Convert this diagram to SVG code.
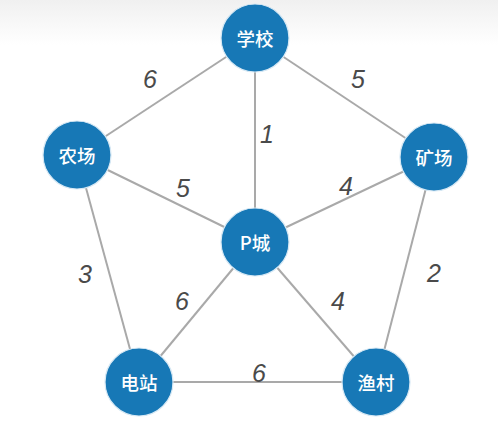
<svg xmlns="http://www.w3.org/2000/svg" width="498" height="428" viewBox="0 0 498 428">
<defs>
<linearGradient id="bg" x1="0" y1="0" x2="0" y2="1">
<stop offset="0" stop-color="#f0f0f0"/>
<stop offset="1" stop-color="#ffffff"/>
</linearGradient>
<style>
.edge{stroke:#a9a9a9;stroke-width:2;fill:none}
.node circle{fill:#1778b6;stroke:#d6e8f4;stroke-width:1.2}
.node text{fill:#ffffff;font-family:"Noto Sans CJK SC","Liberation Sans",sans-serif;font-size:18.5px;font-weight:500;text-anchor:middle;dominant-baseline:central}
.w{fill:#4a4a4a;font-family:"Liberation Sans",Arial,sans-serif;font-size:25px;font-style:italic;text-anchor:middle}
</style>
</defs>
<rect width="498" height="428" fill="#fff"/>
<rect width="498" height="45" fill="url(#bg)"/>
<g id="connectors">
<line class="edge" x1="255" y1="38" x2="77" y2="155"/>
<line class="edge" x1="255" y1="38" x2="434" y2="157"/>
<line class="edge" x1="255" y1="38" x2="255" y2="242"/>
<line class="edge" x1="77" y1="155" x2="255" y2="242"/>
<line class="edge" x1="434" y1="157" x2="255" y2="242"/>
<line class="edge" x1="77" y1="155" x2="139" y2="382"/>
<line class="edge" x1="434" y1="157" x2="376" y2="382"/>
<line class="edge" x1="255" y1="242" x2="139" y2="382"/>
<line class="edge" x1="255" y1="242" x2="376" y2="382"/>
<line class="edge" x1="139" y1="382" x2="376" y2="382"/>
<text class="w" x="150" y="88">6</text>
<text class="w" x="358" y="88">5</text>
<text class="w" x="267" y="143">1</text>
<text class="w" x="183" y="197">5</text>
<text class="w" x="346" y="195">4</text>
<text class="w" x="85" y="283">3</text>
<text class="w" x="434" y="282">2</text>
<text class="w" x="182" y="310">6</text>
<text class="w" x="338" y="310">4</text>
<text class="w" x="259" y="382">6</text>
</g>
<g id="n-school" class="node"><circle cx="255" cy="38" r="34"/><text x="255" y="38">学校</text></g>
<g id="n-farm" class="node"><circle cx="77" cy="155" r="34"/><text x="77" y="155">农场</text></g>
<g id="n-mine" class="node"><circle cx="434" cy="157" r="34"/><text x="434" y="157">矿场</text></g>
<g id="n-pcity" class="node"><circle cx="255" cy="242" r="34"/><text x="255" y="242">P城</text></g>
<g id="n-power" class="node"><circle cx="139" cy="382" r="34"/><text x="139" y="382">电站</text></g>
<g id="n-fish" class="node"><circle cx="376" cy="382" r="34"/><text x="376" y="382">渔村</text></g>
</svg>
